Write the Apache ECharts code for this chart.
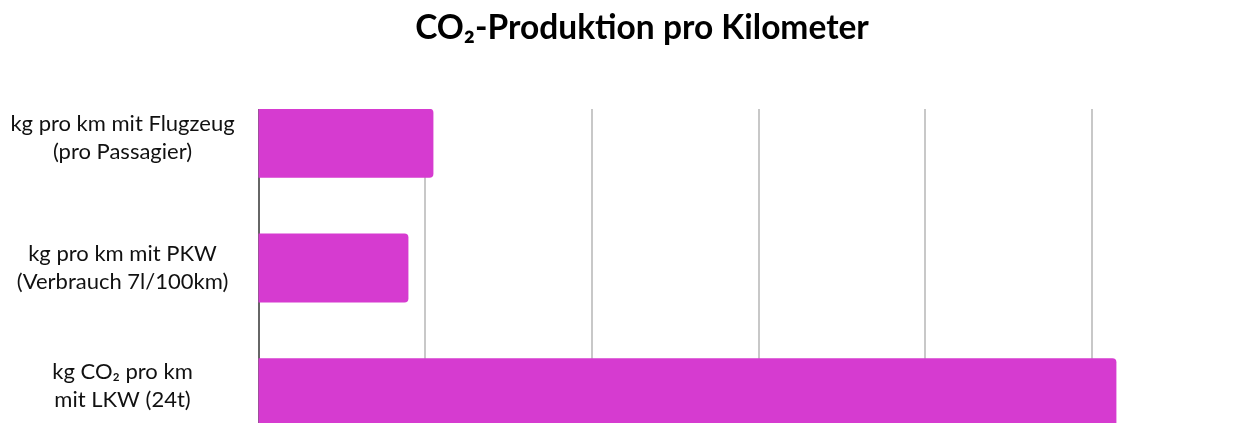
<!DOCTYPE html>
<html>
<head>
<meta charset="utf-8">
<script src="https://cdn.jsdelivr.net/npm/echarts@6/dist/echarts.min.js"></script>
<style>
  html, body { margin: 0; padding: 0; background: #fff; overflow: hidden; }
  #chart { width: 1300px; height: 480px; }
</style>
</head>
<body>
<div id="chart"></div>
<script>
// Kategorien (von oben nach unten)
const categories = [
  'kg pro km mit Flugzeug\n(pro Passagier)',
  'kg pro km mit PKW\n(Verbrauch 7l/100km)',
  'kg CO\u2082 pro km\nmit LKW (24t)'
];
// kg CO2 pro km
const values = [0.21, 0.18, 1.03];

const chart = echarts.init(document.getElementById('chart'));

const option = {
  backgroundColor: '#fff',
  animation: false,
  title: {
    text: 'CO\u2082-Produktion pro Kilometer',
    left: 637,
    top: 6,
    textAlign: 'center',
    textStyle: {
      fontFamily: 'Lato',
      fontWeight: 'bold',
      fontSize: 33.5,
      color: '#000'
    }
  },
  grid: {
    left: 258.5,
    right: 42,
    top: 81,
    bottom: 25,
    containLabel: false
  },
  xAxis: {
    type: 'value',
    min: 0,
    max: 1.2,
    interval: 0.2,
    axisLabel: { show: false },
    axisTick: { show: false },
    axisLine: { show: false },
    splitLine: { lineStyle: { color: '#c8c8c8', width: 2 } }
  },
  yAxis: {
    type: 'category',
    inverse: true,
    data: categories,
    axisTick: { show: false },
    axisLine: { show: true, lineStyle: { color: '#666', width: 2 } },
    axisLabel: {
      align: 'center',
      margin: 136,
      fontFamily: 'Lato',
      fontSize: 22,
      lineHeight: 28,
      color: '#111',
      // oberes und unteres Label etwas nach oben schieben
      formatter: function (value, index) {
        if (index === 0) return value + '\n{s0| }';
        if (index === 2) return value + '\n{s2| }';
        return value;
      },
      rich: {
        s0: { fontSize: 4, lineHeight: 10 },
        s2: { fontSize: 4, lineHeight: 14 }
      }
    }
  },
  // blendet Gitterlinien oberhalb des ersten Balkens aus
  graphic: [{
    type: 'rect',
    z: 100,
    shape: { x: 250, y: 70, width: 1050, height: 39 },
    style: { fill: '#fff' }
  }],
  series: [{
    type: 'bar',
    data: values,
    barWidth: 69,
    z: 5,
    itemStyle: {
      color: '#d63bd0',
      borderRadius: [0, 4, 4, 0]
    }
  }]
};

chart.setOption(option);
</script>
</body>
</html>
